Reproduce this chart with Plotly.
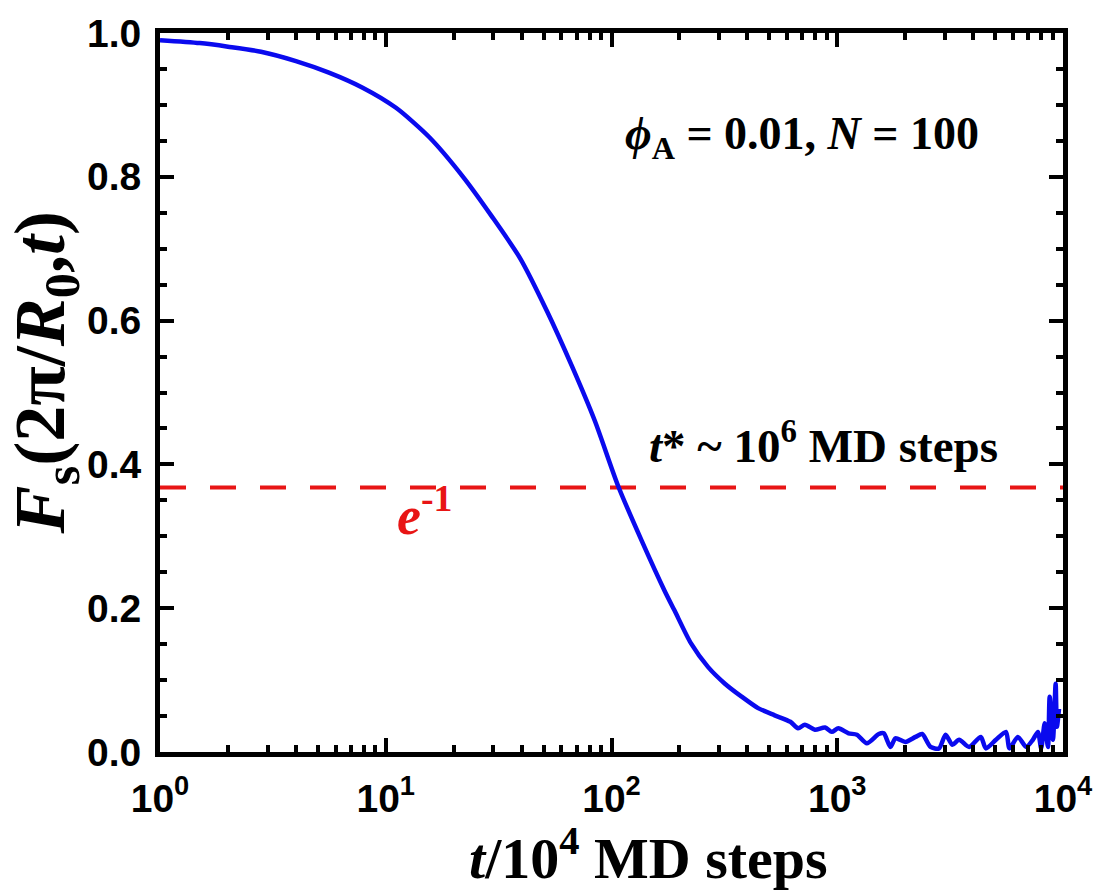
import plotly.graph_objects as go

# ---- data ----
t_vals = [1.0, 1.5, 2.0, 2.8, 4.0, 5.6, 7.9, 11.1, 15.6, 22.0, 29.5, 39.5, 52.0, 66.5,
          84.5, 107, 136, 172, 190, 225, 268, 318, 377, 446, 528, 620, 671, 719, 796,
          883, 946, 1012, 1122, 1222, 1352, 1527, 1607, 1720, 1811, 2005, 2222, 2378,
          2590, 2823, 3021, 3236, 3467, 3839, 4325, 4550, 5047, 5588, 5794, 6310, 6873,
          7352, 7742, 8004, 8295, 8578, 8730, 9025, 9277, 9397, 9600]
fs_vals = [0.990, 0.986, 0.981, 0.974, 0.961, 0.945, 0.924, 0.896, 0.855, 0.800, 0.745,
           0.686, 0.612, 0.538, 0.460, 0.370, 0.294, 0.224, 0.197, 0.151, 0.118, 0.095,
           0.077, 0.061, 0.051, 0.042, 0.033, 0.038, 0.031, 0.034, 0.028, 0.033, 0.026,
           0.024, 0.012, 0.025, 0.026, 0.007, 0.019, 0.014, 0.021, 0.025, 0.007, 0.005,
           0.024, 0.010, 0.017, 0.007, 0.021, 0.005, 0.017, 0.028, 0.005, 0.021, 0.007,
           0.017, 0.028, 0.005, 0.040, 0.007, 0.077, 0.017, 0.095, 0.035, 0.060]

e_inv = 0.3679
ref_t = [1, 10000]
ref_y = [e_inv, e_inv]

x_tickvals = [1, 10, 100, 1000, 10000]
x_ticktext = ["10<sup>0</sup>", "10<sup>1</sup>", "10<sup>2</sup>", "10<sup>3</sup>", "10<sup>4</sup>"]
x_minor = [m * d for d in [1, 10, 100, 1000] for m in range(2, 10)]
y_tickvals = [0.0, 0.2, 0.4, 0.6, 0.8, 1.0]
y_ticktext = ["0.0", "0.2", "0.4", "0.6", "0.8", "1.0"]

x_title = "<i>t</i>/10<sup>4</sup> MD steps"
y_title = "<i>F</i><sub>s</sub>(2π/<i>R</i><sub>0</sub>,<i>t</i>)"

fig = go.Figure()
fig.add_trace(go.Scatter(x=ref_t, y=ref_y, mode="lines",
                         line=dict(color="#E81515", width=4, dash="26px,24px"),
                         showlegend=False, hoverinfo="skip"))
fig.add_trace(go.Scatter(x=t_vals, y=fs_vals, mode="lines",
                         line=dict(color="#0A0AEE", width=4.5, shape="spline", smoothing=0.7),
                         showlegend=False))

serif = "Liberation Serif"
sans = "Liberation Sans"

fig.update_layout(
    width=1105, height=892,
    margin=dict(l=160, r=37, t=30, b=140),
    plot_bgcolor="white", paper_bgcolor="white",
    xaxis=dict(type="log", range=[0, 4],
               tickmode="array", tickvals=x_tickvals, ticktext=x_ticktext,
               ticks="inside", ticklen=14, tickwidth=4, tickcolor="black",
               minor=dict(tickmode="array", tickvals=x_minor, ticks="inside",
                          ticklen=7, tickwidth=4, tickcolor="black"),
               showline=True, linewidth=5, linecolor="black", mirror="ticks",
               showgrid=False, zeroline=False,
               tickfont=dict(family=sans, size=39, color="black", weight="bold"),
               ticklabelstandoff=8),
    yaxis=dict(range=[0, 1],
               tickmode="array", tickvals=y_tickvals, ticktext=y_ticktext,
               ticks="inside", ticklen=14, tickwidth=4, tickcolor="black",
               minor=dict(dtick=0.05, ticks="inside", ticklen=7, tickwidth=4, tickcolor="black"),
               showline=True, linewidth=5, linecolor="black", mirror="ticks",
               showgrid=False, zeroline=False,
               tickfont=dict(family=sans, size=39, color="black", weight="bold"),
               ticklabelstandoff=6),
    annotations=[
        dict(x=0.541, y=-0.142, xref="paper", yref="paper", text=x_title,
             showarrow=False, xanchor="center", yanchor="middle",
             font=dict(family=serif, size=58, color="black", weight="bold")),
        dict(x=-0.127, y=0.527, xref="paper", yref="paper", text=y_title,
             showarrow=False, xanchor="center", yanchor="middle", textangle=-90,
             font=dict(family=serif, size=72, color="black", weight="bold")),
        dict(x=0.909, y=0.855, xref="paper", yref="paper",
             text="<i>ϕ</i><sub>A</sub> = 0.01, <i>N</i> = 100",
             showarrow=False, xanchor="right", yanchor="middle",
             font=dict(family=serif, size=46, color="black", weight="bold")),
        dict(x=0.93, y=0.43, xref="paper", yref="paper",
             text="<i>t</i>* ~ 10<sup>6</sup> MD steps",
             showarrow=False, xanchor="right", yanchor="middle",
             font=dict(family=serif, size=47, color="black", weight="bold")),
        dict(x=0.293, y=0.335, xref="paper", yref="paper",
             text="<i>e</i><sup>-1</sup>",
             showarrow=False, xanchor="center", yanchor="middle",
             font=dict(family=serif, size=54, color="#E81515", weight="bold")),
    ],
)

fig.write_html("out.html")
